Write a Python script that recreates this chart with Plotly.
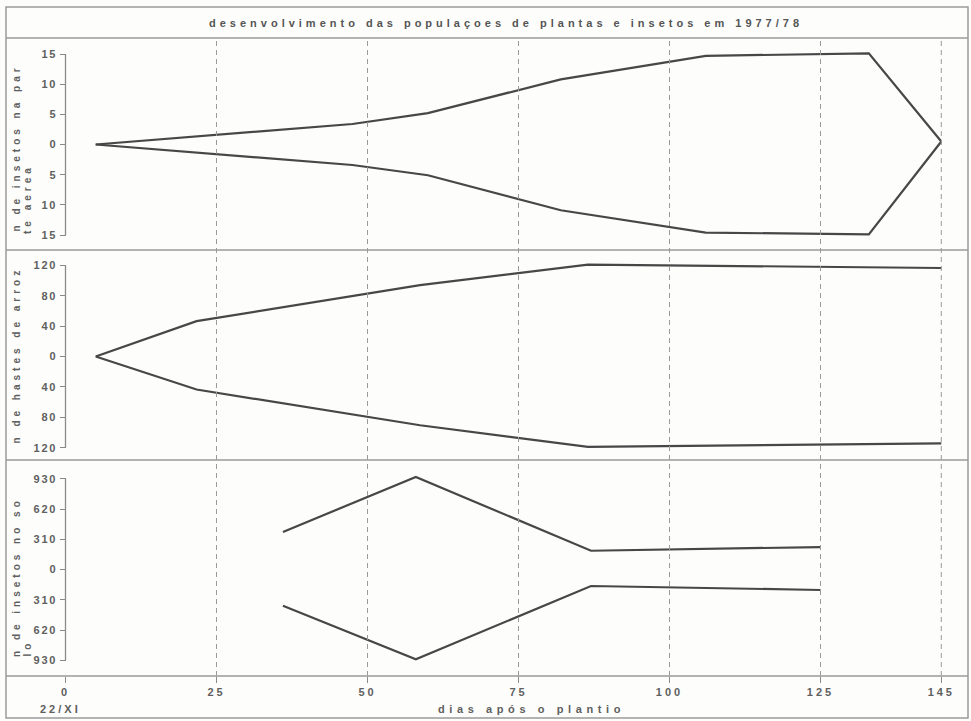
import plotly.graph_objects as go

# ---------------- data ----------------
title_text = "desenvolvimento das populaçoes de plantas e insetos em 1977/78"
x_title = "dias após o plantio"
x_date_label = "22/XI"

x_ticks = [0, 25, 50, 75, 100, 125, 145]

# panel 1 : insetos na parte aerea
days_air = [5, 47.5, 60, 82, 106, 133, 145]
air_upper = [0, 3.4, 5.2, 10.8, 14.7, 15.1, 0.5]
air_lower = [0, -3.4, -5.1, -10.9, -14.6, -14.9, 0.5]
air_ticks = [-15, -10, -5, 0, 5, 10, 15]
air_title = ["n de insetos na par", "te aerea"]

# panel 2 : hastes de arroz
days_rice = [5, 21.7, 58.7, 86.5, 145]
rice_upper = [0, 46.5, 94, 121, 116.5]
rice_lower = [0, -43.5, -90.5, -119, -114.5]
rice_ticks = [-120, -80, -40, 0, 40, 80, 120]
rice_title = ["n de hastes de arroz"]

# panel 3 : insetos no solo
days_soil = [36, 58, 87, 125]
soil_upper = [385, 948, 192, 230]
soil_lower = [-371, -920, -169, -210]
soil_ticks = [-930, -620, -310, 0, 310, 620, 930]
soil_title = ["n de insetos no so", "lo"]

# ---------------- layout helpers ----------------
W, H = 971, 721
LINE = "#474747"
FRAME = "#9a9a9a"
TXT = "#606060"
FONT = "Liberation Sans"


def py(p):  # pixel row -> paper fraction
    return 1 - p / H


def px(p):
    return p / W


def spaced(t, s, bold=True):
    inner = f"<b>{t}</b>" if bold else t
    return f'<span style="letter-spacing:{s}px">{inner}</span>'


x0px, xscale = 65.5, 6.04
x_range = [-x0px / xscale, (W - x0px) / xscale]
yaxis_pos = (0 - x_range[0]) / (x_range[1] - x_range[0])

panels = [
    dict(top=38, bot=250, zero=144.5, ppu=181 / 30, ticks=air_ticks,
         days=days_air, up=air_upper, lo=air_lower, title=air_title,
         ytitle=(234, 236)),
    dict(top=250, bot=460, zero=356.5, ppu=182.3 / 240, ticks=rice_ticks,
         days=days_rice, up=rice_upper, lo=rice_lower, title=rice_title,
         ytitle=(446, 446)),
    dict(top=460, bot=676, zero=569.5, ppu=181.5 / 1860, ticks=soil_ticks,
         days=days_soil, up=soil_upper, lo=soil_lower, title=soil_title,
         ytitle=(659, 659)),
]

fig = go.Figure()
shapes = []
annotations = []
layout_axes = {}

for i, p in enumerate(panels):
    ax = "y" if i == 0 else f"y{i + 1}"
    key = "yaxis" if i == 0 else f"yaxis{i + 1}"
    for series in (p["up"], p["lo"]):
        fig.add_trace(go.Scatter(
            x=p["days"], y=series, mode="lines", yaxis=ax, xaxis="x",
            line=dict(color=LINE, width=2.2), hoverinfo="skip",
            showlegend=False))
    yr = [-(p["bot"] - p["zero"]) / p["ppu"], (p["zero"] - p["top"]) / p["ppu"]]
    layout_axes[key] = dict(
        domain=[py(p["bot"]), py(p["top"])], range=yr,
        anchor="free", position=yaxis_pos,
        showgrid=False, zeroline=False, showline=False,
        ticks="outside", ticklen=6, tickwidth=1.3, tickcolor="#8a8a8a",
        tickvals=p["ticks"],
        ticktext=[spaced(str(abs(v)), 1.8) for v in p["ticks"]],
        tickfont=dict(family=FONT, size=11, color=TXT),
        fixedrange=True)
    shapes.append(dict(type="line", xref="x", yref=ax,
                       x0=0, x1=0, y0=min(p["ticks"]), y1=max(p["ticks"]),
                       line=dict(color="#8a8a8a", width=1.3)))
    for j, t in enumerate(p["title"]):
        annotations.append(dict(
            text=spaced(t, 4.0), xref="paper", yref="paper",
            x=px(16 + 11 * j), y=py(p["ytitle"][j]),
            xanchor="center", yanchor="bottom", textangle=-90,
            showarrow=False, font=dict(family=FONT, size=10, color=TXT)))

fig.update_layout(**layout_axes)

for xv in x_ticks[1:]:
    shapes.append(dict(type="line", xref="x", yref="paper", x0=xv, x1=xv,
                       y0=py(676), y1=py(38),
                       line=dict(color="#9a9a9a", width=1, dash="5px,4px")))

shapes.append(dict(type="rect", xref="paper", yref="paper",
                   x0=px(6), x1=px(968), y0=py(718), y1=py(7),
                   line=dict(color=FRAME, width=1.5)))
for row in (38, 250, 460, 676):
    shapes.append(dict(type="line", xref="paper", yref="paper",
                       x0=px(6), x1=px(968), y0=py(row), y1=py(row),
                       line=dict(color=FRAME, width=1.5)))

annotations.append(dict(text=spaced(title_text, 4.0), xref="paper", yref="paper",
                        x=px(506), y=py(23), xanchor="center", yanchor="middle",
                        showarrow=False,
                        font=dict(family=FONT, size=11, color="#555555")))
annotations.append(dict(text=spaced(x_title, 4.6), xref="paper", yref="paper",
                        x=px(531), y=py(709), xanchor="center", yanchor="middle",
                        showarrow=False, font=dict(family=FONT, size=11, color=TXT)))
annotations.append(dict(text=spaced(x_date_label, 3), xref="paper", yref="paper",
                        x=px(60), y=py(709), xanchor="center", yanchor="middle",
                        showarrow=False, font=dict(family=FONT, size=11, color=TXT)))

fig.update_layout(
    width=W, height=H,
    margin=dict(l=0, r=0, t=0, b=0),
    paper_bgcolor="#fdfdfc", plot_bgcolor="rgba(0,0,0,0)",
    xaxis=dict(domain=[0, 1], range=x_range, anchor="free", position=py(676),
               showgrid=False, zeroline=False, showline=False,
               ticks="outside", ticklen=6, tickwidth=1.3, tickcolor="#8a8a8a",
               tickvals=x_ticks,
               ticktext=[spaced(str(v), 3) for v in x_ticks],
               tickfont=dict(family=FONT, size=11, color=TXT),
               fixedrange=True),
    shapes=shapes, annotations=annotations,
    showlegend=False,
)

fig.write_html("out.html", config={"displayModeBar": False})
